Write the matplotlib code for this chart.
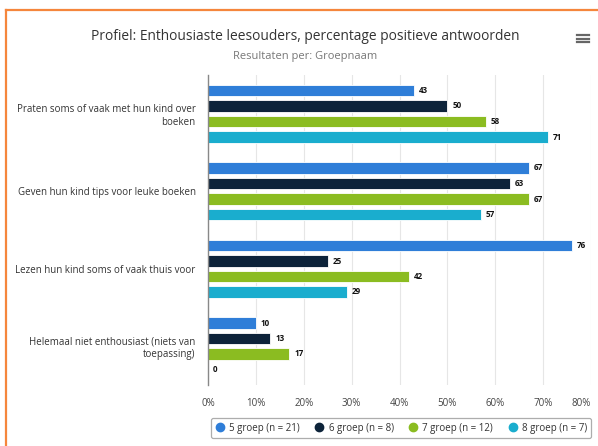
import numpy as np
import matplotlib
matplotlib.use("Agg")
import matplotlib.pyplot as plt
from matplotlib.lines import Line2D

plt.rcParams["font.family"] = ["Open Sans", "DejaVu Sans"]

# ===== DATA =====
categories = [
    "Praten soms of vaak met hun kind over\nboeken",
    "Geven hun kind tips voor leuke boeken",
    "Lezen hun kind soms of vaak thuis voor",
    "Helemaal niet enthousiast (niets van\ntoepassing)",
]
series_names = ["5 groep (n = 21)", "6 groep (n = 8)", "7 groep (n = 12)", "8 groep (n = 7)"]
groep5 = [43, 67, 76, 10]
groep6 = [50, 63, 25, 13]
groep7 = [58, 67, 42, 17]
groep8 = [71, 57, 29, 0]
x_ticks = [0, 10, 20, 30, 40, 50, 60, 70, 80]

# ===== STYLE =====
COLORS = ["#2f7ed8", "#0d233a", "#8bbc21", "#1aadce"]
BAR_H = 0.15
BAR_STEP = 0.2
TEXT_COLOR = "#333333"

W, H = 598, 446
fig = plt.figure(figsize=(W / 100, H / 100), dpi=100)
ax = fig.add_axes([208 / W, 1 - 385 / H, (591 - 208) / W, (385 - 75) / H])

y = np.arange(len(categories))
all_series = [groep5, groep6, groep7, groep8]
for i, (vals, col) in enumerate(zip(all_series, COLORS)):
    offs = (i - 1.5) * BAR_STEP
    ax.barh(y + offs, vals, height=BAR_H, color=col,
            edgecolor="white", linewidth=0.6, zorder=3)
    for yy, v in zip(y + offs, vals):
        ax.text(v + 1.0, yy, f"{v}", va="center", ha="left",
                fontsize=5.8, fontweight="bold", color="#111111", zorder=4)

ax.set_xlim(0, 80)
ax.set_ylim(len(categories) - 0.5, -0.5)
ax.set_xticks(x_ticks)
ax.set_xticklabels([f"{t}%" for t in x_ticks], fontsize=7, color="#444444")
ax.get_xticklabels()[-1].set_horizontalalignment("right")
ax.tick_params(axis="x", length=0, pad=9)
ax.set_yticks(y)
ax.set_yticklabels(categories, fontsize=7, color=TEXT_COLOR, ha="right")
ax.tick_params(axis="y", length=0, pad=9)
ax.grid(axis="x", color="#e6e6e6", linewidth=0.8, zorder=0)
for s in ("top", "right", "bottom"):
    ax.spines[s].set_visible(False)
ax.spines["left"].set_color("#888888")
ax.spines["left"].set_linewidth(1.0)
ax.spines["left"].set_zorder(5)

# title / subtitle
fig.text(305 / W, 1 - 36 / H, "Profiel: Enthousiaste leesouders, percentage positieve antwoorden",
         ha="center", va="center", fontsize=9.9, color="#333333")
fig.text(305 / W, 1 - 57 / H, "Resultaten per: Groepnaam",
         ha="center", va="center", fontsize=8, color="#777777")

# hamburger menu icon
for yy in (35, 38.5, 42):
    fig.add_artist(Line2D([577 / W, 589 / W], [1 - yy / H, 1 - yy / H],
                          color="#666666", linewidth=1.6, transform=fig.transFigure))

# orange frame (top + left)
fig.add_artist(Line2D([6 / W, 1.0], [1 - 10 / H, 1 - 10 / H], color="#f5863c",
                      linewidth=1.6, transform=fig.transFigure))
fig.add_artist(Line2D([6 / W, 6 / W], [1 - 10 / H, 0.0], color="#f5863c",
                      linewidth=1.6, transform=fig.transFigure))

# legend
handles = [Line2D([0], [0], marker="o", linestyle="none", markersize=6,
                  markerfacecolor=c, markeredgecolor=c) for c in COLORS]
leg = fig.legend(handles, series_names, loc="center", ncol=4,
                 bbox_to_anchor=(401 / W, 1 - 428 / H), fontsize=7,
                 frameon=True, handletextpad=0.45, columnspacing=1.5,
                 borderpad=0.45, handlelength=1.0, fancybox=True)
leg.get_frame().set_edgecolor("#999999")
leg.get_frame().set_linewidth(0.9)
for t in leg.get_texts():
    t.set_color(TEXT_COLOR)

fig.savefig("out.png", dpi=100)
